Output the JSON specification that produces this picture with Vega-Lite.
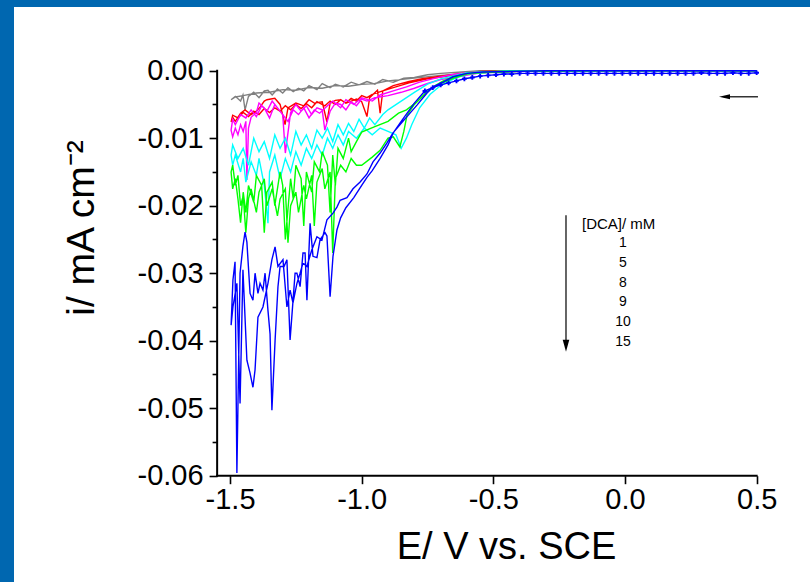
{
  "$schema": "https://vega.github.io/schema/vega-lite/v6.json",
  "width": 796,
  "height": 575,
  "autosize": {"type": "none"},
  "padding": {"left": 14, "top": 7, "right": 0, "bottom": 0},
  "background": "#0067B0",
  "config": {
    "view": {"fill": "white", "stroke": null},
    "font": "Liberation Sans",
    "axis": {"grid": false, "domain": false, "tickColor": "black", "tickWidth": 1.6, "labelColor": "black", "labelFont": "Liberation Sans", "titleFont": "Liberation Sans", "titleColor": "black", "titleFontWeight": "normal", "labelFlush": false, "labelOverlap": false}
  },
  "datasets": {
    "cv": [
      {"c":1,"s":"f","E":0.5,"i":0},{"c":1,"s":"f","E":0.2,"i":0},{"c":1,"s":"f","E":-0.1,"i":0},{"c":1,"s":"f","E":-0.4,"i":-0.0001},{"c":1,"s":"f","E":-0.5,"i":-0.0002},{"c":1,"s":"f","E":-0.6,"i":-0.0004},{"c":1,"s":"f","E":-0.7,"i":-0.0007},{"c":1,"s":"f","E":-0.8,"i":-0.0011},{"c":1,"s":"f","E":-0.9,"i":-0.0015},{"c":1,"s":"f","E":-0.95,"i":-0.0019},{"c":1,"s":"f","E":-1.0,"i":-0.002},{"c":1,"s":"f","E":-1.05,"i":-0.0023},{"c":1,"s":"f","E":-1.1,"i":-0.0022},{"c":1,"s":"f","E":-1.15,"i":-0.0026},{"c":1,"s":"f","E":-1.2,"i":-0.0025},{"c":1,"s":"f","E":-1.25,"i":-0.0029},{"c":1,"s":"f","E":-1.3,"i":-0.0028},{"c":1,"s":"f","E":-1.35,"i":-0.0032},{"c":1,"s":"f","E":-1.4,"i":-0.0033},{"c":1,"s":"f","E":-1.45,"i":-0.0037},{"c":1,"s":"f","E":-1.48,"i":-0.0039},{"c":1,"s":"f","E":-1.496,"i":-0.0043},
      {"c":1,"s":"r","E":-1.48,"i":-0.0038},{"c":1,"s":"r","E":-1.46,"i":-0.0045},{"c":1,"s":"r","E":-1.451,"i":-0.0036},{"c":1,"s":"r","E":-1.443,"i":-0.0058},{"c":1,"s":"r","E":-1.43,"i":-0.0038},{"c":1,"s":"r","E":-1.41,"i":-0.0032},{"c":1,"s":"r","E":-1.39,"i":-0.004},{"c":1,"s":"r","E":-1.37,"i":-0.003},{"c":1,"s":"r","E":-1.356,"i":-0.0029},{"c":1,"s":"r","E":-1.34,"i":-0.0036},{"c":1,"s":"r","E":-1.32,"i":-0.0027},{"c":1,"s":"r","E":-1.3,"i":-0.0033},{"c":1,"s":"r","E":-1.28,"i":-0.0025},{"c":1,"s":"r","E":-1.26,"i":-0.0031},{"c":1,"s":"r","E":-1.24,"i":-0.0026},{"c":1,"s":"r","E":-1.22,"i":-0.003},{"c":1,"s":"r","E":-1.2,"i":-0.0022},{"c":1,"s":"r","E":-1.17,"i":-0.0028},{"c":1,"s":"r","E":-1.15,"i":-0.0019},{"c":1,"s":"r","E":-1.12,"i":-0.0025},{"c":1,"s":"r","E":-1.1,"i":-0.002},{"c":1,"s":"r","E":-1.07,"i":-0.0024},{"c":1,"s":"r","E":-1.04,"i":-0.0017},{"c":1,"s":"r","E":-1.01,"i":-0.0021},{"c":1,"s":"r","E":-0.98,"i":-0.0016},{"c":1,"s":"r","E":-0.95,"i":-0.002},{"c":1,"s":"r","E":-0.92,"i":-0.0013},{"c":1,"s":"r","E":-0.88,"i":-0.0017},{"c":1,"s":"r","E":-0.84,"i":-0.0011},{"c":1,"s":"r","E":-0.8,"i":-0.001},{"c":1,"s":"r","E":-0.75,"i":-0.0006},{"c":1,"s":"r","E":-0.7,"i":-0.0004},{"c":1,"s":"r","E":-0.62,"i":-0.0002},{"c":1,"s":"r","E":-0.55,"i":0},{"c":1,"s":"r","E":-0.3,"i":0},{"c":1,"s":"r","E":0.5,"i":0},

      {"c":5,"s":"f","E":0.5,"i":0},{"c":5,"s":"f","E":0.0,"i":0},{"c":5,"s":"f","E":-0.4,"i":-0.0001},{"c":5,"s":"f","E":-0.55,"i":-0.0002},{"c":5,"s":"f","E":-0.65,"i":-0.0007},{"c":5,"s":"f","E":-0.75,"i":-0.0012},{"c":5,"s":"f","E":-0.82,"i":-0.0018},{"c":5,"s":"f","E":-0.88,"i":-0.0025},{"c":5,"s":"f","E":-0.92,"i":-0.003},{"c":5,"s":"f","E":-0.96,"i":-0.0035},{"c":5,"s":"f","E":-0.98,"i":-0.004},{"c":5,"s":"f","E":-1.0,"i":-0.0037},{"c":5,"s":"f","E":-1.02,"i":-0.0045},{"c":5,"s":"f","E":-1.04,"i":-0.0041},{"c":5,"s":"f","E":-1.06,"i":-0.0048},{"c":5,"s":"f","E":-1.08,"i":-0.0043},{"c":5,"s":"f","E":-1.1,"i":-0.005},{"c":5,"s":"f","E":-1.12,"i":-0.0045},{"c":5,"s":"f","E":-1.14,"i":-0.0052},{"c":5,"s":"f","E":-1.17,"i":-0.0046},{"c":5,"s":"f","E":-1.19,"i":-0.0055},{"c":5,"s":"f","E":-1.21,"i":-0.0049},{"c":5,"s":"f","E":-1.23,"i":-0.0056},{"c":5,"s":"f","E":-1.25,"i":-0.005},{"c":5,"s":"f","E":-1.27,"i":-0.0058},{"c":5,"s":"f","E":-1.29,"i":-0.0052},{"c":5,"s":"f","E":-1.31,"i":-0.006},{"c":5,"s":"f","E":-1.33,"i":-0.0055},{"c":5,"s":"f","E":-1.35,"i":-0.0062},{"c":5,"s":"f","E":-1.37,"i":-0.0056},{"c":5,"s":"f","E":-1.39,"i":-0.0065},{"c":5,"s":"f","E":-1.41,"i":-0.006},{"c":5,"s":"f","E":-1.43,"i":-0.0068},{"c":5,"s":"f","E":-1.45,"i":-0.0062},{"c":5,"s":"f","E":-1.47,"i":-0.007},{"c":5,"s":"f","E":-1.49,"i":-0.0066},{"c":5,"s":"f","E":-1.496,"i":-0.0076},
      {"c":5,"s":"r","E":-1.49,"i":-0.0069},{"c":5,"s":"r","E":-1.48,"i":-0.0075},{"c":5,"s":"r","E":-1.46,"i":-0.0063},{"c":5,"s":"r","E":-1.443,"i":-0.0058},{"c":5,"s":"r","E":-1.42,"i":-0.0065},{"c":5,"s":"r","E":-1.4,"i":-0.006},{"c":5,"s":"r","E":-1.386,"i":-0.0054},{"c":5,"s":"r","E":-1.37,"i":-0.0045},{"c":5,"s":"r","E":-1.36,"i":-0.0043},{"c":5,"s":"r","E":-1.33,"i":-0.0041},{"c":5,"s":"r","E":-1.31,"i":-0.005},{"c":5,"s":"r","E":-1.291,"i":-0.008},{"c":5,"s":"r","E":-1.28,"i":-0.0055},{"c":5,"s":"r","E":-1.25,"i":-0.0048},{"c":5,"s":"r","E":-1.22,"i":-0.0052},{"c":5,"s":"r","E":-1.2,"i":-0.0043},{"c":5,"s":"r","E":-1.18,"i":-0.0048},{"c":5,"s":"r","E":-1.15,"i":-0.0046},{"c":5,"s":"r","E":-1.132,"i":-0.0076},{"c":5,"s":"r","E":-1.12,"i":-0.0048},{"c":5,"s":"r","E":-1.1,"i":-0.0044},{"c":5,"s":"r","E":-1.08,"i":-0.0043},{"c":5,"s":"r","E":-1.06,"i":-0.0048},{"c":5,"s":"r","E":-1.04,"i":-0.0045},{"c":5,"s":"r","E":-1.02,"i":-0.0042},{"c":5,"s":"r","E":-1.0,"i":-0.0046},{"c":5,"s":"r","E":-0.98,"i":-0.0068},{"c":5,"s":"r","E":-0.97,"i":-0.004},{"c":5,"s":"r","E":-0.94,"i":-0.0029},{"c":5,"s":"r","E":-0.93,"i":-0.0063},{"c":5,"s":"r","E":-0.92,"i":-0.003},{"c":5,"s":"r","E":-0.88,"i":-0.0022},{"c":5,"s":"r","E":-0.82,"i":-0.0016},{"c":5,"s":"r","E":-0.77,"i":-0.0012},{"c":5,"s":"r","E":-0.7,"i":-0.0008},{"c":5,"s":"r","E":-0.62,"i":-0.0004},{"c":5,"s":"r","E":-0.55,"i":-0.0001},{"c":5,"s":"r","E":-0.3,"i":0},{"c":5,"s":"r","E":0.5,"i":0},

      {"c":8,"s":"f","E":0.5,"i":0},{"c":8,"s":"f","E":0.0,"i":0},{"c":8,"s":"f","E":-0.4,"i":-0.0001},{"c":8,"s":"f","E":-0.55,"i":-0.0003},{"c":8,"s":"f","E":-0.62,"i":-0.0008},{"c":8,"s":"f","E":-0.7,"i":-0.0013},{"c":8,"s":"f","E":-0.75,"i":-0.0019},{"c":8,"s":"f","E":-0.8,"i":-0.0026},{"c":8,"s":"f","E":-0.85,"i":-0.0032},{"c":8,"s":"f","E":-0.9,"i":-0.0037},{"c":8,"s":"f","E":-0.95,"i":-0.004},{"c":8,"s":"f","E":-0.98,"i":-0.0045},{"c":8,"s":"f","E":-1.0,"i":-0.0042},{"c":8,"s":"f","E":-1.02,"i":-0.0052},{"c":8,"s":"f","E":-1.04,"i":-0.0046},{"c":8,"s":"f","E":-1.06,"i":-0.0058},{"c":8,"s":"f","E":-1.08,"i":-0.005},{"c":8,"s":"f","E":-1.1,"i":-0.0048},{"c":8,"s":"f","E":-1.12,"i":-0.006},{"c":8,"s":"f","E":-1.14,"i":-0.0088},{"c":8,"s":"f","E":-1.15,"i":-0.0058},{"c":8,"s":"f","E":-1.17,"i":-0.0055},{"c":8,"s":"f","E":-1.19,"i":-0.0065},{"c":8,"s":"f","E":-1.21,"i":-0.0052},{"c":8,"s":"f","E":-1.23,"i":-0.006},{"c":8,"s":"f","E":-1.25,"i":-0.005},{"c":8,"s":"f","E":-1.27,"i":-0.0062},{"c":8,"s":"f","E":-1.29,"i":-0.0122},{"c":8,"s":"f","E":-1.3,"i":-0.0065},{"c":8,"s":"f","E":-1.32,"i":-0.0055},{"c":8,"s":"f","E":-1.34,"i":-0.0045},{"c":8,"s":"f","E":-1.36,"i":-0.006},{"c":8,"s":"f","E":-1.38,"i":-0.0052},{"c":8,"s":"f","E":-1.4,"i":-0.0068},{"c":8,"s":"f","E":-1.42,"i":-0.0058},{"c":8,"s":"f","E":-1.44,"i":-0.007},{"c":8,"s":"f","E":-1.46,"i":-0.0065},{"c":8,"s":"f","E":-1.48,"i":-0.008},{"c":8,"s":"f","E":-1.49,"i":-0.0072},{"c":8,"s":"f","E":-1.496,"i":-0.0088},
      {"c":8,"s":"r","E":-1.49,"i":-0.0098},{"c":8,"s":"r","E":-1.48,"i":-0.0085},{"c":8,"s":"r","E":-1.47,"i":-0.0095},{"c":8,"s":"r","E":-1.46,"i":-0.008},{"c":8,"s":"r","E":-1.45,"i":-0.009},{"c":8,"s":"r","E":-1.44,"i":-0.0075},{"c":8,"s":"r","E":-1.436,"i":-0.0162},{"c":8,"s":"r","E":-1.43,"i":-0.0085},{"c":8,"s":"r","E":-1.42,"i":-0.0069},{"c":8,"s":"r","E":-1.4,"i":-0.0062},{"c":8,"s":"r","E":-1.39,"i":-0.0048},{"c":8,"s":"r","E":-1.37,"i":-0.0055},{"c":8,"s":"r","E":-1.35,"i":-0.007},{"c":8,"s":"r","E":-1.33,"i":-0.005},{"c":8,"s":"r","E":-1.31,"i":-0.006},{"c":8,"s":"r","E":-1.28,"i":-0.0075},{"c":8,"s":"r","E":-1.26,"i":-0.0058},{"c":8,"s":"r","E":-1.24,"i":-0.0065},{"c":8,"s":"r","E":-1.22,"i":-0.0055},{"c":8,"s":"r","E":-1.2,"i":-0.007},{"c":8,"s":"r","E":-1.18,"i":-0.0058},{"c":8,"s":"r","E":-1.16,"i":-0.0063},{"c":8,"s":"r","E":-1.13,"i":-0.0052},{"c":8,"s":"r","E":-1.11,"i":-0.0045},{"c":8,"s":"r","E":-1.08,"i":-0.0055},{"c":8,"s":"r","E":-1.06,"i":-0.0043},{"c":8,"s":"r","E":-1.03,"i":-0.005},{"c":8,"s":"r","E":-1.0,"i":-0.004},{"c":8,"s":"r","E":-0.96,"i":-0.0045},{"c":8,"s":"r","E":-0.93,"i":-0.0036},{"c":8,"s":"r","E":-0.88,"i":-0.003},{"c":8,"s":"r","E":-0.83,"i":-0.0024},{"c":8,"s":"r","E":-0.78,"i":-0.0017},{"c":8,"s":"r","E":-0.72,"i":-0.0011},{"c":8,"s":"r","E":-0.66,"i":-0.0006},{"c":8,"s":"r","E":-0.6,"i":-0.0003},{"c":8,"s":"r","E":-0.4,"i":0},{"c":8,"s":"r","E":0.5,"i":0},

      {"c":9,"s":"f","E":0.5,"i":0},{"c":9,"s":"f","E":0.0,"i":0},{"c":9,"s":"f","E":-0.4,"i":-0.0001},{"c":9,"s":"f","E":-0.55,"i":-0.0002},{"c":9,"s":"f","E":-0.6,"i":-0.0003},{"c":9,"s":"f","E":-0.7,"i":-0.0012},{"c":9,"s":"f","E":-0.75,"i":-0.002},{"c":9,"s":"f","E":-0.8,"i":-0.0032},{"c":9,"s":"f","E":-0.85,"i":-0.0045},{"c":9,"s":"f","E":-0.9,"i":-0.0058},{"c":9,"s":"f","E":-0.92,"i":-0.0065},{"c":9,"s":"f","E":-0.95,"i":-0.008},{"c":9,"s":"f","E":-0.97,"i":-0.007},{"c":9,"s":"f","E":-0.99,"i":-0.0085},{"c":9,"s":"f","E":-1.01,"i":-0.0072},{"c":9,"s":"f","E":-1.03,"i":-0.009},{"c":9,"s":"f","E":-1.05,"i":-0.0078},{"c":9,"s":"f","E":-1.07,"i":-0.0095},{"c":9,"s":"f","E":-1.09,"i":-0.008},{"c":9,"s":"f","E":-1.11,"i":-0.0105},{"c":9,"s":"f","E":-1.13,"i":-0.0085},{"c":9,"s":"f","E":-1.15,"i":-0.01},{"c":9,"s":"f","E":-1.17,"i":-0.0088},{"c":9,"s":"f","E":-1.19,"i":-0.0115},{"c":9,"s":"f","E":-1.21,"i":-0.0095},{"c":9,"s":"f","E":-1.23,"i":-0.011},{"c":9,"s":"f","E":-1.25,"i":-0.009},{"c":9,"s":"f","E":-1.27,"i":-0.0125},{"c":9,"s":"f","E":-1.29,"i":-0.01},{"c":9,"s":"f","E":-1.31,"i":-0.0115},{"c":9,"s":"f","E":-1.33,"i":-0.0095},{"c":9,"s":"f","E":-1.35,"i":-0.013},{"c":9,"s":"f","E":-1.37,"i":-0.0105},{"c":9,"s":"f","E":-1.39,"i":-0.012},{"c":9,"s":"f","E":-1.41,"i":-0.01},{"c":9,"s":"f","E":-1.43,"i":-0.014},{"c":9,"s":"f","E":-1.45,"i":-0.0115},{"c":9,"s":"f","E":-1.47,"i":-0.013},{"c":9,"s":"f","E":-1.49,"i":-0.011},{"c":9,"s":"f","E":-1.496,"i":-0.0125},
      {"c":9,"s":"r","E":-1.49,"i":-0.014},{"c":9,"s":"r","E":-1.48,"i":-0.0125},{"c":9,"s":"r","E":-1.46,"i":-0.015},{"c":9,"s":"r","E":-1.45,"i":-0.013},{"c":9,"s":"r","E":-1.44,"i":-0.0165},{"c":9,"s":"r","E":-1.42,"i":-0.0135},{"c":9,"s":"r","E":-1.4,"i":-0.0155},{"c":9,"s":"r","E":-1.39,"i":-0.013},{"c":9,"s":"r","E":-1.37,"i":-0.017},{"c":9,"s":"r","E":-1.356,"i":-0.0226},{"c":9,"s":"r","E":-1.35,"i":-0.015},{"c":9,"s":"r","E":-1.33,"i":-0.0125},{"c":9,"s":"r","E":-1.31,"i":-0.016},{"c":9,"s":"r","E":-1.29,"i":-0.013},{"c":9,"s":"r","E":-1.27,"i":-0.015},{"c":9,"s":"r","E":-1.25,"i":-0.012},{"c":9,"s":"r","E":-1.23,"i":-0.014},{"c":9,"s":"r","E":-1.21,"i":-0.0115},{"c":9,"s":"r","E":-1.19,"i":-0.013},{"c":9,"s":"r","E":-1.17,"i":-0.011},{"c":9,"s":"r","E":-1.15,"i":-0.0125},{"c":9,"s":"r","E":-1.13,"i":-0.01},{"c":9,"s":"r","E":-1.11,"i":-0.0115},{"c":9,"s":"r","E":-1.09,"i":-0.0095},{"c":9,"s":"r","E":-1.07,"i":-0.011},{"c":9,"s":"r","E":-1.05,"i":-0.009},{"c":9,"s":"r","E":-1.02,"i":-0.01},{"c":9,"s":"r","E":-0.99,"i":-0.0085},{"c":9,"s":"r","E":-0.96,"i":-0.0095},{"c":9,"s":"r","E":-0.93,"i":-0.0085},{"c":9,"s":"r","E":-0.9,"i":-0.009},{"c":9,"s":"r","E":-0.87,"i":-0.0095},{"c":9,"s":"r","E":-0.85,"i":-0.0115},{"c":9,"s":"r","E":-0.83,"i":-0.01},{"c":9,"s":"r","E":-0.81,"i":-0.008},{"c":9,"s":"r","E":-0.78,"i":-0.0055},{"c":9,"s":"r","E":-0.74,"i":-0.0035},{"c":9,"s":"r","E":-0.7,"i":-0.0022},{"c":9,"s":"r","E":-0.65,"i":-0.0012},{"c":9,"s":"r","E":-0.6,"i":-0.0005},{"c":9,"s":"r","E":-0.45,"i":0},{"c":9,"s":"r","E":0.5,"i":0},

      {"c":10,"s":"f","E":0.5,"i":0},{"c":10,"s":"f","E":0.0,"i":0},{"c":10,"s":"f","E":-0.4,"i":-0.0001},{"c":10,"s":"f","E":-0.55,"i":-0.0003},{"c":10,"s":"f","E":-0.6,"i":-0.0005},{"c":10,"s":"f","E":-0.65,"i":-0.0011},{"c":10,"s":"f","E":-0.7,"i":-0.0019},{"c":10,"s":"f","E":-0.75,"i":-0.003},{"c":10,"s":"f","E":-0.79,"i":-0.0046},{"c":10,"s":"f","E":-0.83,"i":-0.0058},{"c":10,"s":"f","E":-0.86,"i":-0.0063},{"c":10,"s":"f","E":-0.9,"i":-0.0075},{"c":10,"s":"f","E":-0.95,"i":-0.0083},{"c":10,"s":"f","E":-1.0,"i":-0.0091},{"c":10,"s":"f","E":-1.02,"i":-0.0105},{"c":10,"s":"f","E":-1.04,"i":-0.012},{"c":10,"s":"f","E":-1.05,"i":-0.01},{"c":10,"s":"f","E":-1.07,"i":-0.013},{"c":10,"s":"f","E":-1.09,"i":-0.0115},{"c":10,"s":"f","E":-1.1,"i":-0.017},{"c":10,"s":"f","E":-1.11,"i":-0.0125},{"c":10,"s":"f","E":-1.12,"i":-0.021},{"c":10,"s":"f","E":-1.13,"i":-0.014},{"c":10,"s":"f","E":-1.15,"i":-0.012},{"c":10,"s":"f","E":-1.16,"i":-0.015},{"c":10,"s":"f","E":-1.18,"i":-0.0135},{"c":10,"s":"f","E":-1.19,"i":-0.018},{"c":10,"s":"f","E":-1.21,"i":-0.015},{"c":10,"s":"f","E":-1.22,"i":-0.023},{"c":10,"s":"f","E":-1.23,"i":-0.016},{"c":10,"s":"f","E":-1.25,"i":-0.014},{"c":10,"s":"f","E":-1.26,"i":-0.019},{"c":10,"s":"f","E":-1.27,"i":-0.016},{"c":10,"s":"f","E":-1.29,"i":-0.025},{"c":10,"s":"f","E":-1.3,"i":-0.017},{"c":10,"s":"f","E":-1.31,"i":-0.015},{"c":10,"s":"f","E":-1.33,"i":-0.02},{"c":10,"s":"f","E":-1.34,"i":-0.0165},{"c":10,"s":"f","E":-1.36,"i":-0.018},{"c":10,"s":"f","E":-1.37,"i":-0.024},{"c":10,"s":"f","E":-1.38,"i":-0.017},{"c":10,"s":"f","E":-1.4,"i":-0.0155},{"c":10,"s":"f","E":-1.41,"i":-0.0195},{"c":10,"s":"f","E":-1.43,"i":-0.017},{"c":10,"s":"f","E":-1.44,"i":-0.021},{"c":10,"s":"f","E":-1.45,"i":-0.018},{"c":10,"s":"f","E":-1.46,"i":-0.0225},{"c":10,"s":"f","E":-1.47,"i":-0.019},{"c":10,"s":"f","E":-1.48,"i":-0.016},{"c":10,"s":"f","E":-1.49,"i":-0.0175},{"c":10,"s":"f","E":-1.496,"i":-0.015},
      {"c":10,"s":"r","E":-1.49,"i":-0.014},{"c":10,"s":"r","E":-1.48,"i":-0.017},{"c":10,"s":"r","E":-1.47,"i":-0.0155},{"c":10,"s":"r","E":-1.46,"i":-0.02},{"c":10,"s":"r","E":-1.45,"i":-0.0185},{"c":10,"s":"r","E":-1.44,"i":-0.024},{"c":10,"s":"r","E":-1.43,"i":-0.019},{"c":10,"s":"r","E":-1.42,"i":-0.0175},{"c":10,"s":"r","E":-1.4,"i":-0.021},{"c":10,"s":"r","E":-1.39,"i":-0.018},{"c":10,"s":"r","E":-1.37,"i":-0.016},{"c":10,"s":"r","E":-1.36,"i":-0.02},{"c":10,"s":"r","E":-1.34,"i":-0.0175},{"c":10,"s":"r","E":-1.32,"i":-0.0215},{"c":10,"s":"r","E":-1.31,"i":-0.019},{"c":10,"s":"r","E":-1.29,"i":-0.0175},{"c":10,"s":"r","E":-1.28,"i":-0.0255},{"c":10,"s":"r","E":-1.27,"i":-0.02},{"c":10,"s":"r","E":-1.25,"i":-0.018},{"c":10,"s":"r","E":-1.24,"i":-0.021},{"c":10,"s":"r","E":-1.22,"i":-0.017},{"c":10,"s":"r","E":-1.21,"i":-0.019},{"c":10,"s":"r","E":-1.19,"i":-0.0155},{"c":10,"s":"r","E":-1.18,"i":-0.023},{"c":10,"s":"r","E":-1.17,"i":-0.0165},{"c":10,"s":"r","E":-1.15,"i":-0.0145},{"c":10,"s":"r","E":-1.14,"i":-0.0175},{"c":10,"s":"r","E":-1.12,"i":-0.015},{"c":10,"s":"r","E":-1.11,"i":-0.027},{"c":10,"s":"r","E":-1.1,"i":-0.016},{"c":10,"s":"r","E":-1.08,"i":-0.014},{"c":10,"s":"r","E":-1.06,"i":-0.015},{"c":10,"s":"r","E":-1.04,"i":-0.013},{"c":10,"s":"r","E":-1.02,"i":-0.014},{"c":10,"s":"r","E":-1.0,"i":-0.014},{"c":10,"s":"r","E":-0.96,"i":-0.0128},{"c":10,"s":"r","E":-0.93,"i":-0.0118},{"c":10,"s":"r","E":-0.9,"i":-0.01},{"c":10,"s":"r","E":-0.88,"i":-0.0098},{"c":10,"s":"r","E":-0.855,"i":-0.0113},{"c":10,"s":"r","E":-0.84,"i":-0.009},{"c":10,"s":"r","E":-0.828,"i":-0.0066},{"c":10,"s":"r","E":-0.8,"i":-0.005},{"c":10,"s":"r","E":-0.76,"i":-0.0035},{"c":10,"s":"r","E":-0.729,"i":-0.0024},{"c":10,"s":"r","E":-0.69,"i":-0.0015},{"c":10,"s":"r","E":-0.65,"i":-0.0009},{"c":10,"s":"r","E":-0.6,"i":-0.0004},{"c":10,"s":"r","E":-0.5,"i":-0.0001},{"c":10,"s":"r","E":0.0,"i":0},{"c":10,"s":"r","E":0.5,"i":0},

      {"c":15,"s":"f","E":0.5,"i":-0.0003},{"c":15,"s":"f","E":0.47,"i":-0.0004},{"c":15,"s":"f","E":0.44,"i":-0.0004},{"c":15,"s":"f","E":0.41,"i":-0.0003},{"c":15,"s":"f","E":0.38,"i":-0.0004},{"c":15,"s":"f","E":0.35,"i":-0.0004},{"c":15,"s":"f","E":0.32,"i":-0.0004},{"c":15,"s":"f","E":0.29,"i":-0.0003},{"c":15,"s":"f","E":0.26,"i":-0.0004},{"c":15,"s":"f","E":0.23,"i":-0.0004},{"c":15,"s":"f","E":0.2,"i":-0.0004},{"c":15,"s":"f","E":0.17,"i":-0.0004},{"c":15,"s":"f","E":0.14,"i":-0.0004},{"c":15,"s":"f","E":0.11,"i":-0.0004},{"c":15,"s":"f","E":0.08,"i":-0.0004},{"c":15,"s":"f","E":0.05,"i":-0.0004},{"c":15,"s":"f","E":0.02,"i":-0.0004},{"c":15,"s":"f","E":-0.01,"i":-0.0004},{"c":15,"s":"f","E":-0.04,"i":-0.0004},{"c":15,"s":"f","E":-0.07,"i":-0.0004},{"c":15,"s":"f","E":-0.1,"i":-0.0004},{"c":15,"s":"f","E":-0.13,"i":-0.0004},{"c":15,"s":"f","E":-0.16,"i":-0.0004},{"c":15,"s":"f","E":-0.19,"i":-0.0004},{"c":15,"s":"f","E":-0.22,"i":-0.0004},{"c":15,"s":"f","E":-0.25,"i":-0.0004},{"c":15,"s":"f","E":-0.28,"i":-0.0004},{"c":15,"s":"f","E":-0.31,"i":-0.0004},{"c":15,"s":"f","E":-0.34,"i":-0.0004},{"c":15,"s":"f","E":-0.37,"i":-0.0004},{"c":15,"s":"f","E":-0.4,"i":-0.0004},{"c":15,"s":"f","E":-0.43,"i":-0.0005},{"c":15,"s":"f","E":-0.46,"i":-0.0005},{"c":15,"s":"f","E":-0.49,"i":-0.0006},{"c":15,"s":"f","E":-0.52,"i":-0.0007},{"c":15,"s":"f","E":-0.55,"i":-0.0008},{"c":15,"s":"f","E":-0.58,"i":-0.001},{"c":15,"s":"f","E":-0.61,"i":-0.0012},{"c":15,"s":"f","E":-0.64,"i":-0.0015},{"c":15,"s":"f","E":-0.67,"i":-0.0018},{"c":15,"s":"f","E":-0.7,"i":-0.0021},{"c":15,"s":"f","E":-0.73,"i":-0.0025},{"c":15,"s":"f","E":-0.76,"i":-0.003},{"c":15,"s":"f","E":-0.8,"i":-0.0048},{"c":15,"s":"f","E":-0.85,"i":-0.0075},{"c":15,"s":"f","E":-0.88,"i":-0.0092},{"c":15,"s":"f","E":-0.9,"i":-0.011},{"c":15,"s":"f","E":-0.93,"i":-0.013},{"c":15,"s":"f","E":-0.96,"i":-0.0148},{"c":15,"s":"f","E":-0.98,"i":-0.0158},{"c":15,"s":"f","E":-1.0,"i":-0.017},{"c":15,"s":"f","E":-1.03,"i":-0.0188},{"c":15,"s":"f","E":-1.06,"i":-0.0203},{"c":15,"s":"f","E":-1.08,"i":-0.0218},{"c":15,"s":"f","E":-1.094,"i":-0.0236},{"c":15,"s":"f","E":-1.109,"i":-0.0275},{"c":15,"s":"f","E":-1.12,"i":-0.0335},{"c":15,"s":"f","E":-1.132,"i":-0.0245},{"c":15,"s":"f","E":-1.139,"i":-0.024},{"c":15,"s":"f","E":-1.158,"i":-0.025},{"c":15,"s":"f","E":-1.17,"i":-0.0277},{"c":15,"s":"f","E":-1.185,"i":-0.0275},{"c":15,"s":"f","E":-1.196,"i":-0.0226},{"c":15,"s":"f","E":-1.208,"i":-0.034},{"c":15,"s":"f","E":-1.215,"i":-0.027},{"c":15,"s":"f","E":-1.223,"i":-0.027},{"c":15,"s":"f","E":-1.234,"i":-0.032},{"c":15,"s":"f","E":-1.246,"i":-0.03},{"c":15,"s":"f","E":-1.253,"i":-0.03},{"c":15,"s":"f","E":-1.272,"i":-0.0399},{"c":15,"s":"f","E":-1.284,"i":-0.028},{"c":15,"s":"f","E":-1.295,"i":-0.029},{"c":15,"s":"f","E":-1.31,"i":-0.029},{"c":15,"s":"f","E":-1.318,"i":-0.032},{"c":15,"s":"f","E":-1.329,"i":-0.04},{"c":15,"s":"f","E":-1.341,"i":-0.0503},{"c":15,"s":"f","E":-1.348,"i":-0.039},{"c":15,"s":"f","E":-1.356,"i":-0.0355},{"c":15,"s":"f","E":-1.367,"i":-0.03},{"c":15,"s":"f","E":-1.375,"i":-0.0325},{"c":15,"s":"f","E":-1.386,"i":-0.0315},{"c":15,"s":"f","E":-1.394,"i":-0.033},{"c":15,"s":"f","E":-1.405,"i":-0.03},{"c":15,"s":"f","E":-1.413,"i":-0.034},{"c":15,"s":"f","E":-1.424,"i":-0.033},{"c":15,"s":"f","E":-1.436,"i":-0.0254},{"c":15,"s":"f","E":-1.443,"i":-0.0239},{"c":15,"s":"f","E":-1.451,"i":-0.026},{"c":15,"s":"f","E":-1.462,"i":-0.03},{"c":15,"s":"f","E":-1.474,"i":-0.0596},{"c":15,"s":"f","E":-1.481,"i":-0.0283},{"c":15,"s":"f","E":-1.489,"i":-0.031},{"c":15,"s":"f","E":-1.496,"i":-0.0377},
      {"c":15,"s":"r","E":-1.489,"i":-0.035},{"c":15,"s":"r","E":-1.474,"i":-0.0315},{"c":15,"s":"r","E":-1.462,"i":-0.0493},{"c":15,"s":"r","E":-1.451,"i":-0.0295},{"c":15,"s":"r","E":-1.436,"i":-0.0429},{"c":15,"s":"r","E":-1.424,"i":-0.0448},{"c":15,"s":"r","E":-1.413,"i":-0.0469},{"c":15,"s":"r","E":-1.405,"i":-0.0443},{"c":15,"s":"r","E":-1.394,"i":-0.0365},{"c":15,"s":"r","E":-1.375,"i":-0.035},{"c":15,"s":"r","E":-1.356,"i":-0.0315},{"c":15,"s":"r","E":-1.341,"i":-0.028},{"c":15,"s":"r","E":-1.329,"i":-0.0261},{"c":15,"s":"r","E":-1.318,"i":-0.029},{"c":15,"s":"r","E":-1.299,"i":-0.028},{"c":15,"s":"r","E":-1.284,"i":-0.035},{"c":15,"s":"r","E":-1.272,"i":-0.0325},{"c":15,"s":"r","E":-1.261,"i":-0.0344},{"c":15,"s":"r","E":-1.246,"i":-0.0315},{"c":15,"s":"r","E":-1.234,"i":-0.03},{"c":15,"s":"r","E":-1.223,"i":-0.0285},{"c":15,"s":"r","E":-1.208,"i":-0.029},{"c":15,"s":"r","E":-1.19,"i":-0.0266},{"c":15,"s":"r","E":-1.17,"i":-0.0246},{"c":15,"s":"r","E":-1.151,"i":-0.0251},{"c":15,"s":"r","E":-1.132,"i":-0.0221},{"c":15,"s":"r","E":-1.109,"i":-0.0211},{"c":15,"s":"r","E":-1.094,"i":-0.0202},{"c":15,"s":"r","E":-1.082,"i":-0.0192},{"c":15,"s":"r","E":-1.056,"i":-0.0188},{"c":15,"s":"r","E":-1.033,"i":-0.0175},{"c":15,"s":"r","E":-1.006,"i":-0.0165},{"c":15,"s":"r","E":-0.98,"i":-0.0153},{"c":15,"s":"r","E":-0.957,"i":-0.0135},{"c":15,"s":"r","E":-0.93,"i":-0.0122},{"c":15,"s":"r","E":-0.904,"i":-0.0107},{"c":15,"s":"r","E":-0.881,"i":-0.0092},{"c":15,"s":"r","E":-0.855,"i":-0.008},{"c":15,"s":"r","E":-0.828,"i":-0.0068},{"c":15,"s":"r","E":-0.79,"i":-0.0051},{"c":15,"s":"r","E":-0.752,"i":-0.0033},{"c":15,"s":"r","E":-0.729,"i":-0.0024},{"c":15,"s":"r","E":-0.691,"i":-0.0017},{"c":15,"s":"r","E":-0.653,"i":-0.0009},{"c":15,"s":"r","E":-0.6,"i":-0.0004},{"c":15,"s":"r","E":-0.539,"i":-0.0002},{"c":15,"s":"r","E":-0.3,"i":0},{"c":15,"s":"r","E":0.0,"i":0},{"c":15,"s":"r","E":0.5,"i":0}
    ]
  },
  "resolve": {"axis": {"x": "independent", "y": "independent"}},
  "layer": [
    {
      "data": {"name": "cv"},
      "mark": {"type": "line", "strokeWidth": 1.4},
      "encoding": {
        "x": {"field": "E", "type": "quantitative", "scale": {"domain": [-2.3205, 0.7026], "nice": false, "zero": false},
          "axis": {"orient": "bottom", "offset": -106.3, "values": [-1.5, -1, -0.5, 0, 0.5], "labelExpr": "datum.value < 0 ? '-' + format(-datum.value, '.1f') : format(datum.value, '.1f')", "tickSize": 8, "labelFontSize": 29, "labelPadding": 2, "title": "E/ V vs. SCE", "titleFontSize": 38, "titleX": 492, "titleY": 83, "titleBaseline": "alphabetic", "titleAlign": "center", "titleAngle": 0}},
        "y": {"field": "i", "type": "quantitative", "scale": {"domain": [-0.07575, 0.009437], "nice": false, "zero": false},
          "axis": {"orient": "left", "offset": -203.1, "values": [-0.06, -0.05, -0.04, -0.03, -0.02, -0.01, 0], "labelExpr": "datum.value < 0 ? '-' + format(-datum.value, '.2f') : format(datum.value, '.2f')", "tickSize": 8, "labelFontSize": 29, "labelPadding": 6, "title": "i/ mA cm⁻²", "titleFontSize": 39, "titleX": -123.6, "titleY": 220.5, "titleBaseline": "alphabetic", "titleAlign": "center", "titleAngle": 270}},
        "color": {"field": "c", "type": "nominal",
          "scale": {"domain": [1, 5, 8, 9, 10, 15], "range": ["#808080", "#FF0000", "#FF00FF", "#00FFFF", "#00FF00", "#0000FF"]},
          "legend": {"orient": "none", "legendX": 568, "legendY": 210, "title": "[DCA]/ mM", "titleFontSize": 15, "titleFontWeight": "normal", "titleColor": "black", "titlePadding": 4, "labelFontSize": 14, "labelColor": "black", "labelAlign": "center", "labelOffset": 27, "symbolOpacity": 0, "symbolSize": 0, "symbolStrokeWidth": 0, "rowPadding": 5.8, "padding": 0}},
        "order": {"value": null}
      }
    },
    {
      "data": {"name": "cv"},
      "transform": [{"filter": "datum.c === 15 && datum.s === 'f' && datum.E > -0.78"}],
      "mark": {"type": "point", "shape": "cross", "filled": true, "size": 22, "color": "#0000FF", "opacity": 1},
      "encoding": {
        "x": {"field": "E", "type": "quantitative", "axis": null},
        "y": {"field": "i", "type": "quantitative", "axis": null}
      }
    },
    {
      "data": {"values": [{}]},
      "mark": {"type": "rule", "color": "black", "strokeWidth": 2, "strokeCap": "square"},
      "encoding": {
        "x": {"datum": -1.549, "type": "quantitative", "axis": null},
        "y": {"datum": -0.06, "type": "quantitative", "axis": {"orient": "left", "offset": -203.1, "values": [-0.055, -0.045, -0.035, -0.025, -0.015, -0.005], "tickSize": 5, "labels": false, "title": null}},
        "y2": {"datum": 0}
      }
    },
    {
      "data": {"values": [{}]},
      "mark": {"type": "rule", "color": "black", "strokeWidth": 2, "strokeCap": "square"},
      "encoding": {
        "x": {"datum": -1.549, "type": "quantitative", "axis": null},
        "x2": {"datum": 0.5},
        "y": {"datum": -0.06, "type": "quantitative", "axis": null}
      }
    },
    {
      "data": {"values": [{}]},
      "mark": {"type": "rule", "color": "black", "strokeWidth": 1.2},
      "encoding": {
        "x": {"datum": -0.2241, "type": "quantitative", "axis": null},
        "y": {"datum": -0.0214, "type": "quantitative", "axis": null},
        "y2": {"datum": -0.0405}
      }
    },
    {
      "data": {"values": [{}]},
      "mark": {"type": "point", "shape": "M 0 1 L -0.55 -1 L 0.55 -1 Z", "filled": true, "size": 144, "color": "black", "opacity": 1},
      "encoding": {
        "x": {"datum": -0.2241, "type": "quantitative", "axis": null},
        "y": {"datum": -0.04074, "type": "quantitative", "axis": null}
      }
    },
    {
      "data": {"values": [{}]},
      "mark": {"type": "rule", "color": "#333333", "strokeWidth": 1.5},
      "encoding": {
        "x": {"datum": 0.375, "type": "quantitative", "axis": null},
        "x2": {"datum": 0.505},
        "y": {"datum": -0.00385, "type": "quantitative", "axis": null}
      }
    },
    {
      "data": {"values": [{}]},
      "mark": {"type": "point", "shape": "M -1 0 L 1 -0.45 L 1 0.45 Z", "filled": true, "size": 121, "color": "black", "opacity": 1},
      "encoding": {
        "x": {"datum": 0.378, "type": "quantitative", "axis": null},
        "y": {"datum": -0.00385, "type": "quantitative", "axis": null}
      }
    }
  ]
}
